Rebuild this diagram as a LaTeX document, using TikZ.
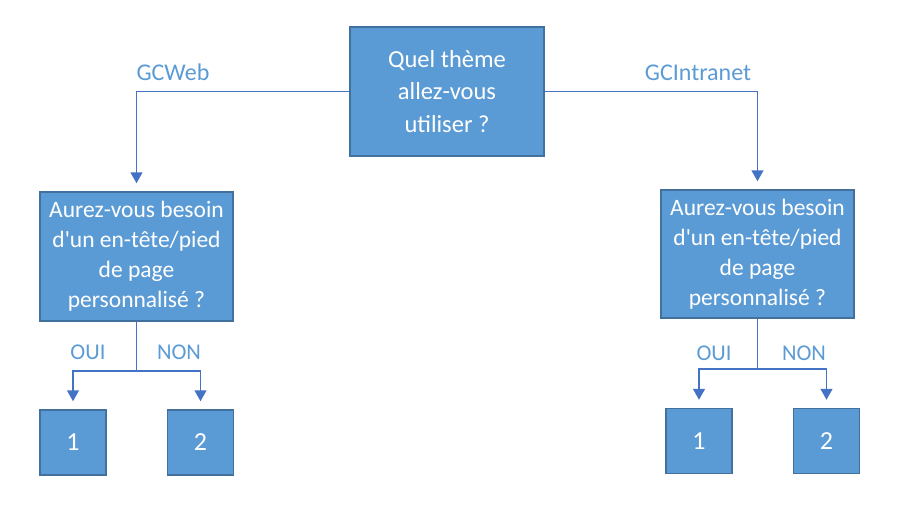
\documentclass[tikz,border=0pt]{standalone}
\usepackage{fontspec}
\setmainfont{Carlito}[Ligatures=TeXOff]
\usetikzlibrary{arrows.meta}
\definecolor{boxfill}{RGB}{91,155,213}
\definecolor{boxline}{RGB}{65,113,156}
\definecolor{conn}{RGB}{68,114,196}
\definecolor{lbl}{RGB}{91,155,213}
\tikzset{
  qbox/.style={rectangle, fill=boxfill, draw=boxline, line width=1.5pt, text=white, align=center,
    font=\fontsize{23.5}{30}\selectfont, inner sep=0pt},
  nbox/.style={rectangle, fill=boxfill, draw=boxline, line width=1.5pt, text=white,
    font=\fontsize{26}{31}\selectfont, inner sep=0pt, minimum width=66pt, minimum height=65pt},
  conn/.style={draw=conn, line width=1.5pt},
  arr/.style={conn, -{Triangle[width=12pt,length=11pt]}, shorten >=8pt},
  blabel/.style={text=lbl, font=\fontsize{24}{28}\selectfont},
  slabel/.style={text=lbl, font=\fontsize{22.5}{26}\selectfont}
}
\begin{document}
\begin{tikzpicture}[x=1pt,y=-1pt]
\useasboundingbox (0,0) rectangle (919,511);
\node[qbox, minimum width=194pt, minimum height=129pt, font=\fontsize{24.5}{32.5}\selectfont] (top) at (447,91.5) {Quel thème\\allez-vous\\utiliser ?};
\node[qbox, minimum width=193pt, minimum height=129pt] (lbig) at (136.5,256.5) {Aurez-vous besoin\\d'un en-tête/pied\\de page\\personnalisé ?};
\node[qbox, minimum width=193pt, minimum height=128pt] (rbig) at (757.5,254) {Aurez-vous besoin\\d'un en-tête/pied\\de page\\personnalisé ?};
\node[nbox] (l1) at (73,442.5) {1};
\node[nbox] (l2) at (200.5,442.5) {2};
\node[nbox] (r1) at (699,441) {1};
\node[nbox] (r2) at (826.5,441) {2};
\coordinate (lj) at (136.5,371);
\coordinate (rj) at (757.5,369);
\draw[arr] (top.west) -| (lbig.north);
\draw[arr] (top.east) -| (rbig.north);
\draw[conn] (lbig.south) -- (lj);
\draw[arr] (lj) -| (l1.north);
\draw[arr] (lj) -| (l2.north);
\draw[conn] (rbig.south) -- (rj);
\draw[arr] (rj) -| (r1.north);
\draw[arr] (rj) -| (r2.north);
\node[blabel] (gcweb) at (173,72) {GCWeb};
\node[blabel] (gcintra) at (698,73) {GCIntranet};
\node[slabel] (oui1) at (88,352) {OUI};
\node[slabel] (non1) at (179,352) {NON};
\node[slabel] (oui2) at (714,353) {OUI};
\node[slabel] (non2) at (804,353) {NON};
\end{tikzpicture}
\end{document}
